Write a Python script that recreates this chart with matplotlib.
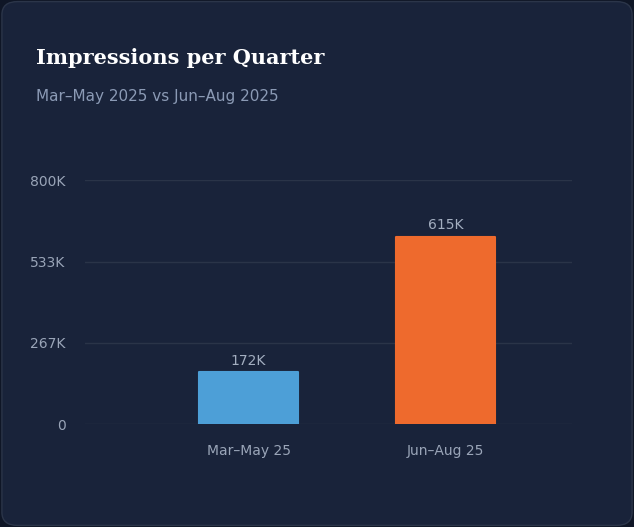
import matplotlib.pyplot as plt
from matplotlib.patches import FancyBboxPatch

categories = ["Mar–May 25", "Jun–Aug 25"]
impressions = [172000, 615000]
labels = ["172K", "615K"]
tick_vals = [0, 267000, 533000, 800000]
tick_labels = ["0", "267K", "533K", "800K"]
colors = ["#4d9fd7", "#ee6a2d"]

bg = "#19233a"
fig = plt.figure(figsize=(6.34, 5.27), dpi=100)
fig.patch.set_facecolor("#0f1626")
card = FancyBboxPatch((0.003, 0.003), 0.994, 0.994, boxstyle="round,pad=0,rounding_size=0.025",
                      transform=fig.transFigure, facecolor=bg, edgecolor="#2b3549", lw=1,
                      zorder=-10)
fig.patches.append(card)

ax = fig.add_axes([0.134, 0.195, 0.768, 0.463])
ax.set_zorder(5)
ax.set_facecolor("none")
x = list(range(len(categories)))
ax.bar(x, impressions, width=0.5, color=colors, zorder=3,
       edgecolor=colors, linewidth=1.5, joinstyle="round")
for xi, v, t in zip(x, impressions, labels):
    ax.text(xi, v + 14000, t, ha="center", va="bottom", color="#a3aec0", fontsize=10)

ax.set_xlim(-0.83, 1.64)
ax.set_ylim(0, 800000)
ax.set_yticks(tick_vals, tick_labels)
ax.set_xticks(x, categories)
ax.grid(axis="y", color="#2a3448", lw=1, zorder=0)
for s in ax.spines.values():
    s.set_visible(False)
ax.tick_params(length=0, colors="#9aa5b8", labelsize=10)
ax.tick_params(axis="y", pad=14)
ax.tick_params(axis="x", pad=14)

fig.text(0.057, 0.89, "Impressions per Quarter", color="white", fontsize=15,
         fontweight="bold", family="DejaVu Serif", va="center")
fig.text(0.057, 0.816, "Mar–May 2025 vs Jun–Aug 2025", color="#8b9ab5", fontsize=11, va="center")

fig.savefig("out.png", dpi=100, facecolor=fig.get_facecolor())
